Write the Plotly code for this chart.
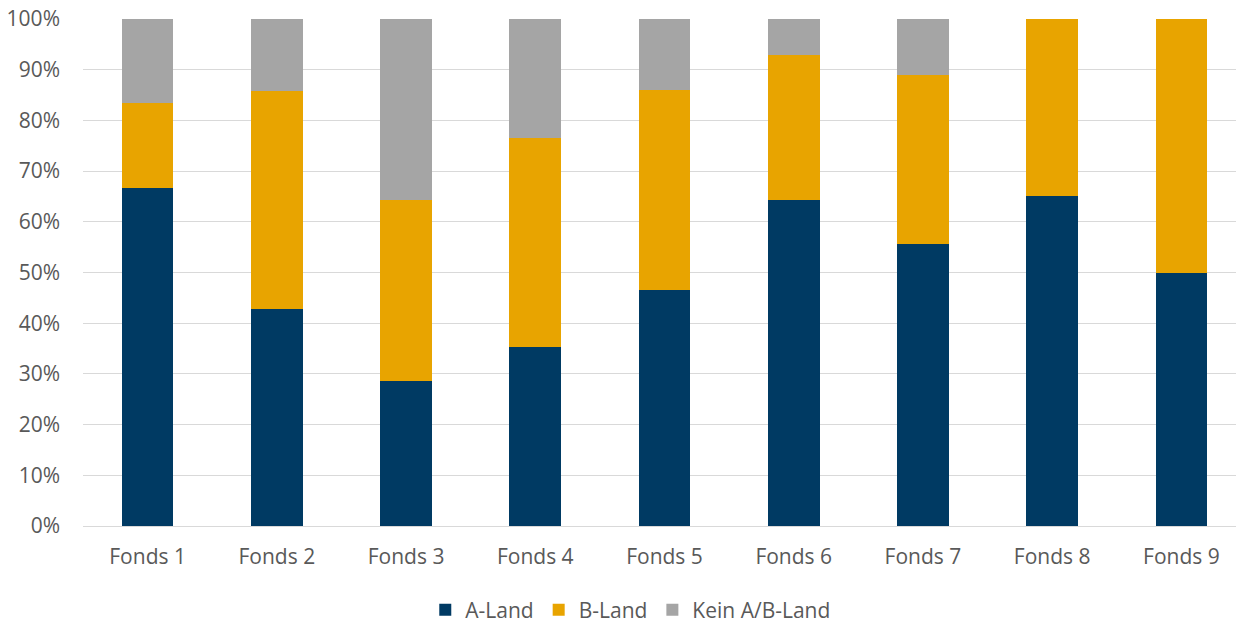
import plotly.graph_objects as go

categories = ["Fonds 1", "Fonds 2", "Fonds 3", "Fonds 4", "Fonds 5", "Fonds 6", "Fonds 7", "Fonds 8", "Fonds 9"]
a_land = [66.7, 42.9, 28.6, 35.3, 46.5, 64.3, 55.6, 65.0, 50.0]
b_land = [16.7, 42.9, 35.7, 41.2, 39.5, 28.6, 33.3, 35.0, 50.0]
kein = [16.6, 14.2, 35.7, 23.5, 14.0, 7.1, 11.1, 0.0, 0.0]
y_ticks = [0, 10, 20, 30, 40, 50, 60, 70, 80, 90, 100]

font = dict(family="Open Sans, sans-serif", size=21, color="#595959")

fig = go.Figure()
fig.add_bar(x=categories, y=a_land, name="A-Land", marker_color="#003A63", marker_line_width=0)
fig.add_bar(x=categories, y=b_land, name="B-Land", marker_color="#E8A400", marker_line_width=0)
fig.add_bar(x=categories, y=kein, name="Kein A/B-Land", marker_color="#A5A5A5", marker_line_width=0)

fig.update_layout(
    barmode="stack",
    bargap=0.6,
    width=1244, height=623,
    margin=dict(l=75, r=6, t=11, b=105, autoexpand=False),
    plot_bgcolor="white", paper_bgcolor="white",
    font=font,
    showlegend=True,
    legend=dict(orientation="h", x=0.471, xanchor="center", y=-0.166, yanchor="middle",
                font=dict(family="Open Sans, sans-serif", size=21, color="#595959"),
                itemsizing="constant", traceorder="normal"),
)
fig.update_yaxes(range=[0, 100], tickvals=y_ticks, ticktext=[f"{v}%" for v in y_ticks],
                 showgrid=True, gridcolor="#D9D9D9", gridwidth=1, zeroline=False,
                 showline=False, ticks="", ticklabelstandoff=22, automargin=False,
                 ticklabeloverflow="allow")
fig.update_xaxes(showline=True, linecolor="#D9D9D9", linewidth=1, ticks="",
                 ticklabelstandoff=12, automargin=False)

fig.write_html("out.html")
